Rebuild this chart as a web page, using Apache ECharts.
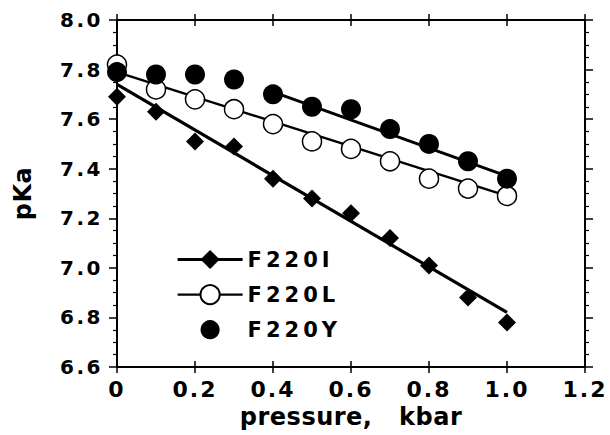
<!DOCTYPE html>
<html><head><meta charset="utf-8">
<script src="https://cdn.jsdelivr.net/npm/echarts@6/dist/echarts.min.js"></script>
<style>
html,body{margin:0;padding:0;background:#fff}
#c{width:610px;height:435px}
#c text{letter-spacing:2px}
#c text[style*="20px"]{letter-spacing:2.5px}
#c text[style*="22px"]{letter-spacing:2px}
#c text[style*="21px"]{letter-spacing:4px}
#c text[style*="24px"]{letter-spacing:0.5px}
</style>
</head><body>
<div id="c"></div>
<script>
const pressure = [0, 0.1, 0.2, 0.3, 0.4, 0.5, 0.6, 0.7, 0.8, 0.9, 1.0];
const pKaF220I = [7.69, 7.63, 7.51, 7.49, 7.36, 7.28, 7.22, 7.12, 7.01, 6.88, 6.78];
const pKaF220L = [7.82, 7.72, 7.68, 7.64, 7.58, 7.51, 7.48, 7.43, 7.36, 7.32, 7.29];
const pKaF220Y = [7.79, 7.78, 7.78, 7.76, 7.70, 7.65, 7.64, 7.56, 7.50, 7.43, 7.36];
const fitXI = [0, 1.0], fitYI = [7.74, 6.82];
const fitXL = [0, 1.0], fitYL = [7.79, 7.29];
const fitXY = [0.4, 1.0], fitYY = [7.71, 7.37];
const xTickLabels = ['0', '0.2', '0.4', '0.6', '0.8', '1.0', '1.2'];
const yTickLabels = ['6.6', '6.8', '7.0', '7.2', '7.4', '7.6', '7.8', '8.0'];

const FONT = 'DejaVu Sans';
const pairs = (xs, ys) => xs.map((x, i) => [x, ys[i]]);

function xAx(pos, inside, labels, line) {
  return {
    type: 'value', min: 0, max: 1.2, interval: 0.2, position: pos,
    axisLine: {show: line, onZero: false, lineStyle: {color: '#000', width: 2}},
    axisTick: {show: true, inside: inside, length: 6, lineStyle: {color: '#000', width: 1.5}},
    axisLabel: {show: labels, margin: 11, color: '#000', fontSize: 22, fontWeight: 'bold', fontFamily: FONT,
      formatter: v => xTickLabels[Math.round(v / 0.2)]},
    splitLine: {show: false},
    name: labels ? 'pressure,   kbar' : '', nameLocation: 'middle', nameGap: 33,
    nameTextStyle: {color: '#000', fontSize: 24, fontWeight: 'bold', fontFamily: FONT}
  };
}
function yAx(pos, labels) {
  return {
    type: 'value', min: 6.6, max: 8.0, interval: 0.2, position: pos,
    axisLine: {show: true, onZero: false, lineStyle: {color: '#000', width: 2}},
    axisTick: {show: true, inside: false, length: 8, lineStyle: {color: '#000', width: 1.5}},
    minorTick: {show: true, splitNumber: 4, length: 4, lineStyle: {color: '#000', width: 1.2}},
    axisLabel: {show: labels, margin: 14, color: '#000', fontSize: 20, fontWeight: 'bold', fontFamily: FONT,
      formatter: v => yTickLabels[Math.round((v - 6.6) / 0.2)]},
    splitLine: {show: false}, minorSplitLine: {show: false},
    name: labels ? 'pKa' : '', nameLocation: 'middle', nameGap: 82,
    nameTextStyle: {color: '#000', fontSize: 24, fontWeight: 'bold', fontFamily: FONT}
  };
}

const chart = echarts.init(document.getElementById('c'), null, {renderer: 'svg'});
chart.setOption({
  animation: false,
  backgroundColor: '#fff',
  grid: {left: 117, right: 25, top: 20, bottom: 68, containLabel: false, outerBoundsMode: 'none'},
  xAxis: [xAx('bottom', false, true, true), xAx('bottom', true, false, false),
          xAx('top', false, false, true), xAx('top', true, false, false)],
  yAxis: [yAx('left', true), yAx('right', false)],
  legend: {
    orient: 'vertical', left: 171, top: 244, padding: 5, itemWidth: 65, itemHeight: 24, itemGap: 14,
    selectedMode: false,
    textStyle: {color: '#000', fontSize: 21, fontWeight: 'bold', fontFamily: FONT},
    data: [
      {name: 'F220I', lineStyle: {width: 3.2, color: '#000', opacity: 1}},
      {name: 'F220L', lineStyle: {width: 2.4, color: '#000', opacity: 1}},
      {name: 'F220Y', lineStyle: {width: 0, opacity: 0}}
    ]
  },
  series: [
    {name: 'fitI', type: 'line', data: pairs(fitXI, fitYI), symbol: 'none', z: 2,
      lineStyle: {color: '#000', width: 3.2}},
    {name: 'fitL', type: 'line', data: pairs(fitXL, fitYL), symbol: 'none', z: 2,
      lineStyle: {color: '#000', width: 2.4}},
    {name: 'fitY', type: 'line', data: pairs(fitXY, fitYY), symbol: 'none', z: 2,
      lineStyle: {color: '#000', width: 3}},
    {name: 'F220L', type: 'line', data: pairs(pressure, pKaF220L), symbol: 'circle', symbolSize: 19, z: 3,
      itemStyle: {color: '#fff', borderColor: '#000', borderWidth: 1.5}, lineStyle: {opacity: 0}},
    {name: 'F220Y', type: 'line', data: pairs(pressure, pKaF220Y), symbol: 'circle', symbolSize: 20, z: 4,
      itemStyle: {color: '#000', borderColor: '#000', borderWidth: 0}, lineStyle: {opacity: 0}},
    {name: 'F220I', type: 'line', data: pairs(pressure, pKaF220I), symbol: 'diamond', symbolSize: 18, z: 4,
      itemStyle: {color: '#000'}, lineStyle: {opacity: 0}}
  ]
});
</script>
</body></html>
